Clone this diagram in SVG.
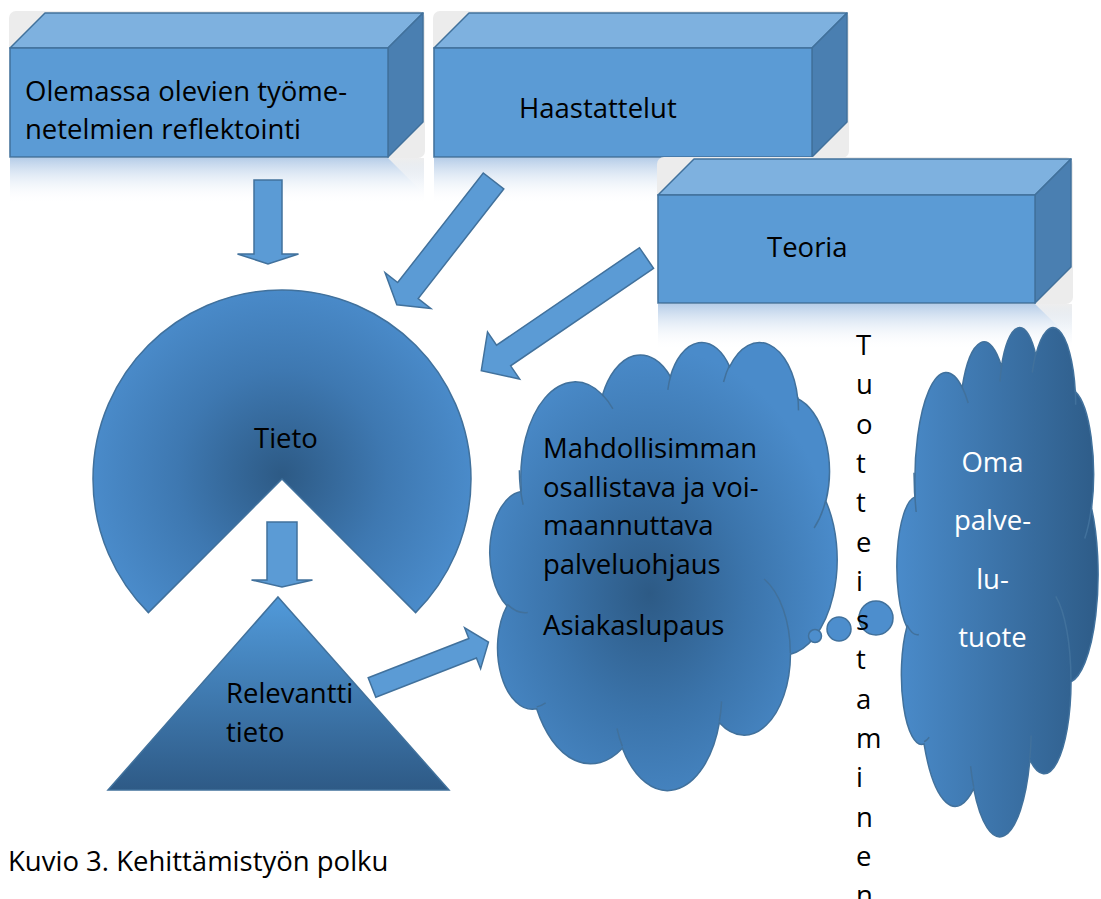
<svg xmlns="http://www.w3.org/2000/svg" width="1101" height="899" viewBox="0 0 1101 899">
<defs>
<style>
text{font-family:"Open Sans","Liberation Sans",sans-serif;font-size:27.5px;fill:#000}
.wt{fill:#fff}
.front{fill:#5b9bd5;stroke:#41719c;stroke-width:1.5}
.top{fill:#7eb1df;stroke:#41719c;stroke-width:1.5;stroke-linejoin:round}
.side{fill:#4a7fb1;stroke:#41719c;stroke-width:1.5;stroke-linejoin:round}
.glow{fill:#ececec}
.refl{fill:url(#reflGrad)}
.reflside{fill:url(#reflSideGrad)}
.arrow{fill:#5b9bd5;stroke:#41719c;stroke-width:1.5}
.shape{stroke:#41719c;stroke-width:1.5}
.bubble{fill:#4d8ecd;stroke:#41719c;stroke-width:1.5}
</style>
<linearGradient id="reflGrad" x1="0" y1="0" x2="0" y2="1">
<stop offset="0" stop-color="#b6cde8"/>
<stop offset="1" stop-color="#ffffff" stop-opacity="0"/>
</linearGradient>
<linearGradient id="reflSideGrad" x1="0" y1="0" x2="0" y2="1">
<stop offset="0" stop-color="#eeeeee"/>
<stop offset="1" stop-color="#ffffff" stop-opacity="0"/>
</linearGradient>
<radialGradient id="pacGrad" gradientUnits="userSpaceOnUse" cx="282" cy="475" r="190">
<stop offset="0" stop-color="#2d5a85"/>
<stop offset="0.55" stop-color="#3e78b1"/>
<stop offset="1" stop-color="#4a8bca"/>
</radialGradient>
<linearGradient id="triGrad" x1="0" y1="0" x2="0" y2="1">
<stop offset="0" stop-color="#519ada"/>
<stop offset="1" stop-color="#2e5a86"/>
</linearGradient>
<radialGradient id="cloud1Grad" cx="0.46" cy="0.56" r="0.55">
<stop offset="0" stop-color="#2d5a85"/>
<stop offset="0.5" stop-color="#3b74ab"/>
<stop offset="1" stop-color="#4a8bca"/>
</radialGradient>
<linearGradient id="cloud2Grad" x1="0" y1="0" x2="1" y2="0">
<stop offset="0" stop-color="#4a8bca"/>
<stop offset="1" stop-color="#2e5c88"/>
</linearGradient>
<path id="cloudOutline" vector-effect="non-scaling-stroke" d="M3900 14370A6753 9190 0 0 1 14005 5202A5333 7267 0 0 1 22457 3429A4365 5945 0 0 1 29833 2474A4857 6595 0 0 1 38317 5570A5333 7273 0 0 1 41818 15454A6775 9220 0 0 1 37406 30201A5785 7867 0 0 1 28557 36811A6752 9215 0 0 1 16483 39265A7720 10543 0 0 1 5807 35470A4360 5918 0 0 1 2116 25547A4345 5945 0 0 1 3866 14504Z"/>
<path id="cloudInner" vector-effect="non-scaling-stroke" fill="none" d="M4693 26177A4345 5945 0 0 1 2159 25379M6928 34899A4360 5918 0 0 1 5820 35280M16478 39090A6752 9215 0 0 1 15809 37348M28827 34751A6752 9215 0 0 1 28560 36660M34129 22954A5785 7867 0 0 1 37380 30090M41798 15354A5333 7273 0 0 1 40350 18030M38324 5426A4857 6595 0 0 1 38400 6690M29078 3952A4857 6595 0 0 1 29821 2338M22141 4720A4365 5945 0 0 1 22500 3331M14000 5192A6753 9190 0 0 1 15300 6541M4127 15789A6753 9190 0 0 1 3659 12457"/>
</defs>
<rect width="1101" height="899" fill="#ffffff"/>

<g id="box-olemassa">
<rect class="glow" x="9" y="11" width="416" height="147" rx="7"/>
<rect class="refl" x="10" y="158" width="414" height="46"/>
<polygon class="reflside" points="388,158 424,158 424,194"/>
<polygon class="top" points="10,48 45,13 423,13 388,48"/>
<polygon class="side" points="388,48 423,13 423,122 388,157"/>
<rect class="front" x="10" y="48" width="378" height="109"/>
<text x="25" y="101">Olemassa olevien työme-</text>
<text x="25" y="139">netelmien reflektointi</text>
</g>

<g id="box-haastattelut">
<rect class="glow" x="433" y="11" width="416" height="147" rx="7"/>
<rect class="refl" x="434" y="158" width="414" height="46"/>
<polygon class="reflside" points="812,158 848,158 848,194"/>
<polygon class="top" points="434,48 469,13 847,13 812,48"/>
<polygon class="side" points="812,48 847,13 847,122 812,157"/>
<rect class="front" x="434" y="48" width="378" height="109"/>
<text x="519" y="118">Haastattelut</text>
</g>

<g id="box-teoria">
<rect class="glow" x="657" y="157" width="416" height="147" rx="7"/>
<rect class="refl" x="658" y="304" width="414" height="46"/>
<polygon class="reflside" points="1035,304 1072,304 1072,340"/>
<polygon class="top" points="658,195 694,159 1071,159 1035,195"/>
<polygon class="side" points="1035,195 1071,159 1071,267 1035,303"/>
<rect class="front" x="658" y="195" width="377" height="108"/>
<text x="767" y="257">Teoria</text>
</g>

<g id="tieto">
<path class="shape" fill="url(#pacGrad)" d="M282 479L148.4 612.6A189 189 0 1 1 415.6 612.6Z"/>
<text x="254" y="448">Tieto</text>
</g>

<g id="relevantti-tieto">
<polygon class="shape" fill="url(#triGrad)" points="278,597 449,790 108,790"/>
<text x="226" y="703">Relevantti</text>
<text x="226" y="742">tieto</text>
</g>

<g id="palveluohjaus">
<g transform="translate(490 341) scale(0.0080324 0.0103704)">
<use href="#cloudOutline" fill="url(#cloud1Grad)" stroke="#41719c" stroke-width="1.5"/>
<use href="#cloudInner" stroke="#41719c" stroke-width="1.5"/>
</g>
<circle class="bubble" cx="815" cy="636" r="6.5"/>
<circle class="bubble" cx="839" cy="629" r="12"/>
<circle class="bubble" cx="876" cy="618" r="17"/>
<text x="543" y="458">Mahdollisimman</text>
<text x="543" y="497">osallistava ja voi-</text>
<text x="543" y="535">maannuttava</text>
<text x="543" y="574">palveluohjaus</text>
<text x="543" y="635">Asiakaslupaus</text>
</g>

<g id="palvelutuote">
<g transform="translate(897 326) scale(0.0046528 0.0117824)">
<use href="#cloudOutline" fill="url(#cloud2Grad)" stroke="#41719c" stroke-width="1.5"/>
<use href="#cloudInner" stroke="#41719c" stroke-width="1.5"/>
</g>
<text class="wt" x="992.5" y="472" text-anchor="middle">Oma</text>
<text class="wt" x="992.5" y="530" text-anchor="middle">palve-</text>
<text class="wt" x="992.5" y="589" text-anchor="middle">lu-</text>
<text class="wt" x="992.5" y="647" text-anchor="middle">tuote</text>
</g>

<g id="tuotteistaminen">
<text x="856" y="355">T</text>
<text x="856" y="394.3">u</text>
<text x="856" y="433.6">o</text>
<text x="856" y="472.9">t</text>
<text x="856" y="512.2">t</text>
<text x="856" y="551.5">e</text>
<text x="856" y="590.8">i</text>
<text x="856" y="630.1">s</text>
<text x="856" y="669.4">t</text>
<text x="856" y="708.7">a</text>
<text x="856" y="748">m</text>
<text x="856" y="787.3">i</text>
<text x="856" y="826.6">n</text>
<text x="856" y="865.9">e</text>
<text x="856" y="905.2">n</text>
</g>

<g id="connectors">
<polygon class="arrow" points="0,-14 74,-14 74,-30.5 84,0 74,30.5 74,14 0,14" transform="translate(268 180) rotate(90)"/>
<polygon class="arrow" points="0,-13 139,-13 139,-29 157,0 139,29 139,13 0,13" transform="translate(493.5 181) rotate(128)"/>
<polygon class="arrow" points="0,-12.5 173,-12.5 173,-28.5 200,0 173,28.5 173,12.5 0,12.5" transform="translate(646.5 258) rotate(145.7)"/>
<polygon class="arrow" points="0,-15 58,-15 58,-30.5 65,0 58,30.5 58,15 0,15" transform="translate(282 522) rotate(90)"/>
<polygon class="arrow" points="0,-10.5 108,-10.5 108,-22 125,0 108,22 108,10.5 0,10.5" transform="translate(372 687.5) rotate(-21.3)"/>
</g>

<g id="caption">
<text x="8" y="871">Kuvio 3. Kehittämistyön polku</text>
</g>
</svg>
